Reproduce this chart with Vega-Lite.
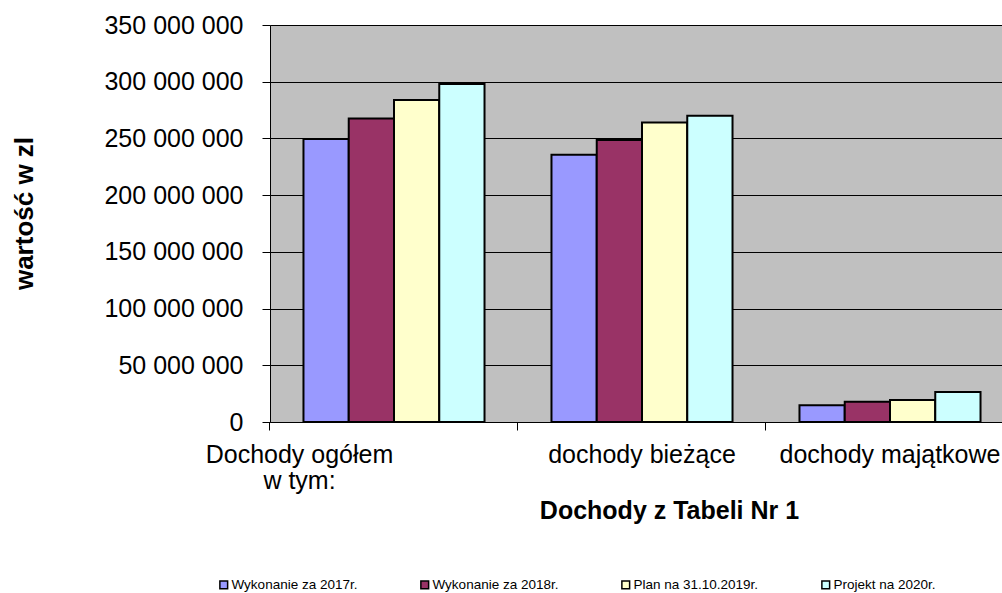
{
  "$schema": "https://vega.github.io/schema/vega-lite/v6.json",
  "width": 733,
  "height": 397,
  "padding": {"left": 11, "top": 13, "right": 0, "bottom": 0},
  "background": "white",
  "config": {
    "view": {"fill": "#c0c0c0", "stroke": null},
    "font": "Liberation Sans",
    "axis": {"labelFont": "Liberation Sans", "titleFont": "Liberation Sans", "labelColor": "black", "titleColor": "black"},
    "legend": {"labelFont": "Liberation Sans", "labelColor": "black"}
  },
  "data": {
    "values": [
      {"kategoria": "Dochody ogółem w tym:", "seria": "Wykonanie za 2017r.", "wartosc": 249500000},
      {"kategoria": "Dochody ogółem w tym:", "seria": "Wykonanie za 2018r.", "wartosc": 267600000},
      {"kategoria": "Dochody ogółem w tym:", "seria": "Plan na 31.10.2019r.", "wartosc": 283800000},
      {"kategoria": "Dochody ogółem w tym:", "seria": "Projekt na 2020r.", "wartosc": 297900000},
      {"kategoria": "dochody bieżące", "seria": "Wykonanie za 2017r.", "wartosc": 235700000},
      {"kategoria": "dochody bieżące", "seria": "Wykonanie za 2018r.", "wartosc": 248600000},
      {"kategoria": "dochody bieżące", "seria": "Plan na 31.10.2019r.", "wartosc": 264100000},
      {"kategoria": "dochody bieżące", "seria": "Projekt na 2020r.", "wartosc": 270000000},
      {"kategoria": "dochody majątkowe", "seria": "Wykonanie za 2017r.", "wartosc": 14700000},
      {"kategoria": "dochody majątkowe", "seria": "Wykonanie za 2018r.", "wartosc": 17900000},
      {"kategoria": "dochody majątkowe", "seria": "Plan na 31.10.2019r.", "wartosc": 19300000},
      {"kategoria": "dochody majątkowe", "seria": "Projekt na 2020r.", "wartosc": 26400000}
    ]
  },
  "mark": {"type": "bar", "stroke": "black", "strokeWidth": 2},
  "encoding": {
    "x": {
      "field": "kategoria",
      "type": "nominal",
      "sort": ["Dochody ogółem w tym:", "dochody bieżące", "dochody majątkowe"],
      "scale": {"range": [0, 744], "paddingInner": 0.27, "paddingOuter": 0.135},
      "axis": {
        "title": "Dochody z Tabeli Nr 1",
        "titleFontSize": 25,
        "titleFontWeight": "bold",
        "titlePadding": 5,
        "titleX": 399,
        "labelAngle": 0,
        "labelFontSize": 25,
        "labelLineHeight": 26,
        "labelLimit": 400,
        "labelExpr": "datum.value == 'Dochody ogółem w tym:' ? ['Dochody ogółem', 'w tym:'] : datum.value",
        "bandPosition": -0.185,
        "labelOffset": {"condition": {"test": "datum.value == 'Dochody ogółem w tym:'", "value": -94.5}, "value": 0},
        "tickSize": 8,
        "tickColor": "black",
        "domainColor": "black",
        "labelPadding": 12
      }
    },
    "xOffset": {
      "field": "seria",
      "sort": ["Wykonanie za 2017r.", "Wykonanie za 2018r.", "Plan na 31.10.2019r.", "Projekt na 2020r."],
      "scale": {"paddingInner": 0, "paddingOuter": 0}
    },
    "y": {
      "field": "wartosc",
      "type": "quantitative",
      "scale": {"domain": [0, 350000000], "nice": false},
      "axis": {
        "title": "wartość w zl",
        "titleFontSize": 26,
        "titleFontWeight": "bold",
        "titlePadding": 66,
        "titleY": 188,
        "values": [0, 50000000, 100000000, 150000000, 200000000, 250000000, 300000000, 350000000],
        "labelExpr": "replace(format(datum.value, ','), regexp(',', 'g'), ' ')",
        "labelFontSize": 25,
        "labelPadding": 19,
        "tickSize": 8,
        "tickColor": "black",
        "domainColor": "black",
        "grid": true,
        "gridColor": "black",
        "gridOpacity": 1,
        "gridWidth": 1
      }
    },
    "color": {
      "field": "seria",
      "type": "nominal",
      "scale": {
        "domain": ["Wykonanie za 2017r.", "Wykonanie za 2018r.", "Plan na 31.10.2019r.", "Projekt na 2020r."],
        "range": ["#9999ff", "#993366", "#ffffcc", "#ccffff"]
      },
      "legend": {
        "title": null,
        "orient": "none",
        "legendX": -53,
        "legendY": 553,
        "direction": "horizontal",
        "columns": 4,
        "columnPadding": 59,
        "padding": 0,
        "symbolType": "square",
        "symbolSize": 60,
        "symbolStrokeColor": "black",
        "symbolStrokeWidth": 1.5,
        "labelFontSize": 13.5,
        "labelOffset": 1
      }
    }
  }
}
